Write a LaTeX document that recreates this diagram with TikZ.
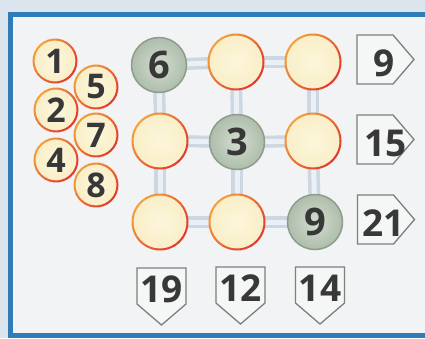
\documentclass[tikz,border=0pt]{standalone}
\usepackage{fontspec}
\setmainfont{Open Sans}
\usetikzlibrary{calc}
\definecolor{frameblue}{HTML}{2F7CB8}
\definecolor{outbg}{HTML}{DCE5ED}
\definecolor{inbg}{HTML}{F1F3F5}
\definecolor{digit}{HTML}{383838}
\definecolor{creamin}{HTML}{FCF6DA}
\definecolor{creamout}{HTML}{F9EEC8}
\definecolor{ringred}{HTML}{E23B2C}
\definecolor{ringorange}{HTML}{F2A03C}
\definecolor{greenin}{HTML}{D3DDD0}
\definecolor{greenout}{HTML}{AEBDAB}
\definecolor{greenline}{HTML}{8E9C8C}
\definecolor{barc}{HTML}{CCD7E1}
\definecolor{barl}{HTML}{EAF0F5}
\definecolor{tagline}{HTML}{7E7E7E}
\definecolor{tagfill}{HTML}{F5F6F6}
\pgfdeclarelayer{bg}\pgfdeclarelayer{conn}
\pgfsetlayers{bg,conn,main}
\newcommand\ringit[2]{%
  \foreach \a [evaluate=\a as \t using {int(50+50*cos(\a-135))}] in {0,12,...,348}{%
    \draw[line width=2pt, ringorange!\t!ringred] (#1.\a) arc[start angle=\a, end angle=\a+13, radius=#2];}}
\begin{document}
\begin{tikzpicture}[x=1pt,y=-1pt,
  bigc/.style={circle, minimum size=55pt, inner sep=0pt, outer sep=0pt,
    font=\fontsize{38}{38}\selectfont\bfseries, text=digit},
  smallc/.style={circle, minimum size=43pt, inner sep=0pt, outer sep=0pt,
    font=\fontsize{34}{34}\selectfont\bfseries, text=digit},
  cream/.style={inner color=creamin, outer color=creamout},
  greenc/.style={inner color=greenin, outer color=greenout, draw=greenline, line width=1.5pt},
  bar/.style={draw=barc, double=barl, line width=3.5pt, double distance=5pt},
  tagtxt/.style={inner sep=0pt, font=\fontsize{37}{37}\selectfont\bfseries, text=digit},
  tagshape/.style={draw=tagline, fill=tagfill, line width=1.3pt, line join=miter}
]
\useasboundingbox (0,0) rectangle (425,338);
\begin{pgfonlayer}{bg}
  \fill[outbg] (0,0) rectangle (425,338);
  \fill[inbg] (10,14) rectangle (425,336);
  \draw[frameblue, line width=5pt] (425,14) -- (10,14) -- (10,335.5) -- (425,335.5);
\end{pgfonlayer}

% small circles
\node[smallc, cream] (s1) at (55,61)  {\raisebox{-3.5pt}{1}};
\node[smallc, cream] (s5) at (96,87)  {\raisebox{-3.5pt}{5}};
\node[smallc, cream] (s2) at (56,110) {\raisebox{-3.5pt}{2}};
\node[smallc, cream] (s7) at (96,135) {\raisebox{-3.5pt}{7}};
\node[smallc, cream] (s4) at (56,160) {\raisebox{-3.5pt}{4}};
\node[smallc, cream] (s8) at (96,185) {\raisebox{-3.5pt}{8}};
\foreach \n in {s1,s5,s2,s7,s4,s8}{\ringit{\n}{21.5pt}}

% grid circles
\node[bigc, greenc] (g11) at (159,65) {\raisebox{-3pt}{6}};
\node[bigc, cream]  (g12) at (236,62) {};
\node[bigc, cream]  (g13) at (313,62) {};
\node[bigc, cream]  (g21) at (160,141) {};
\node[bigc, greenc] (g22) at (237,142) {\raisebox{-3pt}{3}};
\node[bigc, cream]  (g23) at (313,141) {};
\node[bigc, cream]  (g31) at (160,222) {};
\node[bigc, cream]  (g32) at (237,222) {};
\node[bigc, greenc] (g33) at (315,222) {\raisebox{-3pt}{9}};
\foreach \n in {g12,g13,g21,g23,g31,g32}{\ringit{\n}{27.5pt}}

\begin{pgfonlayer}{conn}
  \foreach \p/\q in {g11/g12,g12/g13,g21/g22,g22/g23,g31/g32,g32/g33,
                     g11/g21,g21/g31,g12/g22,g22/g32,g13/g23,g23/g33}
    \draw[bar] (\p) -- (\q);
\end{pgfonlayer}

% right tags
\node[tagtxt] (r1) at (384.5,63) {9};
\node[tagtxt] (r2) at (385.5,143) {15};
\node[tagtxt] (r3) at (383.5,223) {21};
% bottom tags
\node[tagtxt] (b1) at (161.5,289.5) {19};
\node[tagtxt] (b2) at (240.5,288.5) {12};
\node[tagtxt] (b3) at (320,288.5) {14};

\begin{pgfonlayer}{conn}
  \foreach \r/\dx in {r1/-27.5,r2/-28.5,r3/-26}
    \draw[tagshape] ($(\r)+(\dx,-28)$) -- ++(36,0) -- ++(21,24.5) -- ++(-21,24.5) -- ++(-36,0) -- cycle;
  \foreach \b/\dy in {b1/-21.5,b2/-21.5,b3/-21.5}
    \draw[tagshape] ($(\b)+(-24.5,\dy)$) -- ++(49,0) -- ++(0,36) -- ++(-24.5,21) -- ++(-24.5,-21) -- cycle;
\end{pgfonlayer}
\end{tikzpicture}
\end{document}
